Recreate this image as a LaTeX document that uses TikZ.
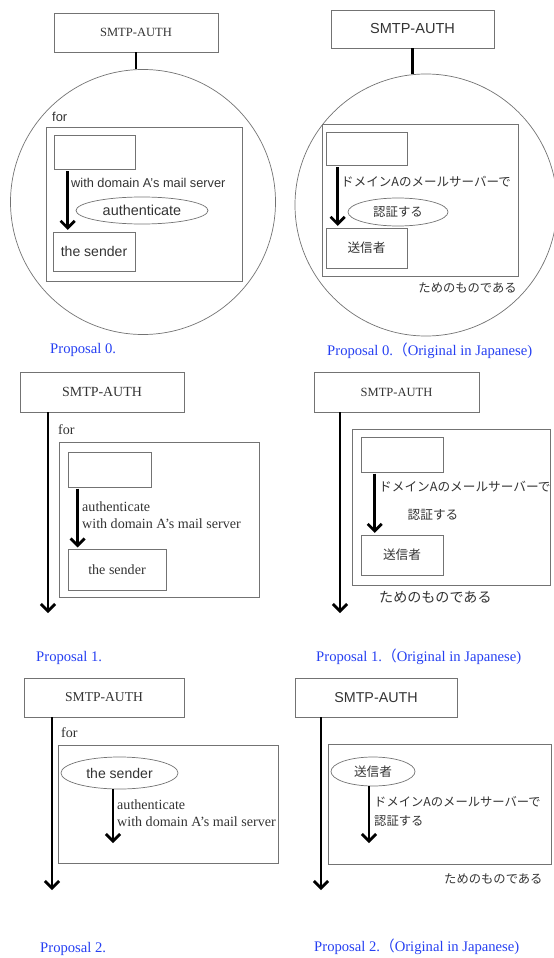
\documentclass[tikz,border=0pt]{standalone}
\usepackage{fontspec}
\setmainfont{Liberation Serif}
\setsansfont{Liberation Sans}
\newfontfamily\jpfont{Noto Sans CJK JP}
\usetikzlibrary{arrows.meta,shapes.geometric}
\definecolor{BoxClr}{rgb}{0.45,0.45,0.45}
\definecolor{TxtClr}{rgb}{0.2,0.2,0.2}
\definecolor{CapClr}{rgb}{0.15,0.25,0.95}

\begin{document}
\begin{tikzpicture}[x=0.03cm,y=-0.03cm,
  box/.style={draw=BoxClr,line width=.6pt,inner sep=0pt,text=TxtClr},
  oval/.style={ellipse,draw=BoxClr,line width=.6pt,inner sep=0pt,text=TxtClr},
  ring/.style={circle,draw=BoxClr,line width=.6pt,inner sep=0pt},
  link/.style={line width=2.4pt,black},
  arr/.style={line width=2.4pt,black,-{Straight Barb[length=6pt,width=12pt]}},
  lbl/.style={inner sep=0pt,text=TxtClr},
  caption/.style={inner sep=0pt,text=CapClr,font=\fontsize{12.5}{15}\selectfont}]

\useasboundingbox (0,0) rectangle (553,958);

\node[box,minimum width=4.92cm,minimum height=1.17cm,font=\fontsize{10.7}{13}\selectfont] (smtpA) at (136,32.5) {SMTP-AUTH};
\node[ring,minimum size=7.95cm] (circA) at (143,202) {};
\draw[link] (smtpA.south) -- (smtpA.south |- circA.north);
\node[lbl,anchor=west,font=\sffamily\fontsize{11}{13}\selectfont] (forA) at (52,117) {for};
\node[box,minimum width=5.88cm,minimum height=4.62cm] (frameA) at (144,204) {};
\node[box,minimum width=2.43cm,minimum height=1.02cm] (emptyA) at (94.5,152) {};
\node[box,minimum width=2.46cm,minimum height=1.17cm,font=\sffamily\fontsize{12}{14}\selectfont] (senderA) at (94,251.5) {the sender};
\coordinate (a0) at ([xshift=.42cm]emptyA.south west);
\draw[arr,shorten <=1.5pt,shorten >=1.5pt] (a0) -- (a0 |- senderA.north);
\node[lbl,anchor=west,font=\sffamily\fontsize{10.9}{13}\selectfont] (viaA) at (71,183) {with domain A's mail server};
\node[oval,minimum width=3.96cm,minimum height=.81cm,font=\sffamily\fontsize{12.3}{14}\selectfont] (authA) at (142,210.5) {authenticate};

\node[box,minimum width=4.89cm,minimum height=1.14cm,font=\sffamily\fontsize{12.4}{14}\selectfont] (smtpB) at (412.5,29) {SMTP-AUTH};
\node[ring,minimum size=7.86cm] (circB) at (426,205) {};
\draw[link] (smtpB.south) -- (smtpB.south |- circB.north);
\node[box,minimum width=5.88cm,minimum height=4.56cm] (frameB) at (420,200) {};
\node[box,minimum width=2.43cm,minimum height=.99cm] (emptyB) at (366.5,148.5) {};
\node[box,minimum width=2.43cm,minimum height=1.2cm,font=\jpfont\fontsize{10.8}{13}\selectfont] (senderB) at (366.5,248) {送信者};
\coordinate (b0) at ([xshift=.36cm]emptyB.south west);
\draw[arr,shorten <=1.5pt,shorten >=1.5pt] (b0) -- (b0 |- senderB.north);
\node[lbl,anchor=west,font=\jpfont\fontsize{10.7}{13}\selectfont] (viaB) at (341,182) {ドメインAのメールサーバーで};
\node[oval,minimum width=3cm,minimum height=.84cm,font=\jpfont\fontsize{10.6}{13}\selectfont] (authB) at (398,212) {認証する};
\node[lbl,anchor=east,font=\jpfont\fontsize{10.5}{13}\selectfont] (forB) at (517,288) {ためのものである};

\node[caption,anchor=west] (capA) at (50,350) {Proposal 0.};
\node[caption,anchor=west] (capB) at (327,351) {Proposal 0.{\jpfont （}Original in Japanese)};

\node[box,minimum width=4.92cm,minimum height=1.2cm,font=\fontsize{11.9}{14}\selectfont] (smtpC) at (102,392) {SMTP-AUTH};
\coordinate (tailC) at (48,613);
\draw[arr] (smtpC.south -| tailC) -- (tailC);
\node[lbl,anchor=west,font=\fontsize{12}{14}\selectfont] (forC) at (58,430) {for};
\node[box,minimum width=6cm,minimum height=4.65cm] (frameC) at (159,519.5) {};
\node[box,minimum width=2.49cm,minimum height=1.05cm] (emptyC) at (109.5,469.5) {};
\node[box,minimum width=2.94cm,minimum height=1.23cm,font=\fontsize{12}{14}\selectfont] (senderC) at (117,569.5) {the sender};
\coordinate (c0) at ([xshift=.3cm]emptyC.south west);
\draw[arr,shorten <=1pt,shorten >=1pt] (c0) -- (c0 |- senderC.north);
\node[lbl,anchor=west,align=left,font=\fontsize{12}{14.5}\selectfont] (viaC) at (82,515.5) {authenticate\\with domain A's mail server};
\node[caption,anchor=west] (capC) at (36,658) {Proposal 1.};

\node[box,minimum width=4.95cm,minimum height=1.2cm,font=\fontsize{10.7}{13}\selectfont] (smtpD) at (396.5,392) {SMTP-AUTH};
\coordinate (tailD) at (340,613);
\draw[arr] (smtpD.south -| tailD) -- (tailD);
\node[box,minimum width=5.94cm,minimum height=4.68cm] (frameD) at (451,507) {};
\node[box,minimum width=2.46cm,minimum height=1.05cm] (emptyD) at (402,454.5) {};
\node[box,minimum width=2.46cm,minimum height=1.2cm,font=\jpfont\fontsize{10.8}{13}\selectfont] (senderD) at (402,555) {送信者};
\coordinate (d0) at ([xshift=.42cm]emptyD.south west);
\draw[arr,shorten <=1pt,shorten >=1.5pt] (d0) -- (d0 |- senderD.north);
\node[lbl,anchor=west,font=\jpfont\fontsize{10.8}{13}\selectfont] (viaD) at (379,487) {ドメインAのメールサーバーで};
\node[lbl,font=\jpfont\fontsize{10.8}{13}\selectfont] (authD) at (433,515) {認証する};
\node[lbl,anchor=west,font=\jpfont\fontsize{12}{14}\selectfont] (forD) at (379,597) {ためのものである};
\node[caption,anchor=west] (capD) at (316,657) {Proposal 1.{\jpfont （}Original in Japanese)};

\node[box,minimum width=4.8cm,minimum height=1.17cm,font=\fontsize{11.6}{14}\selectfont] (smtpE) at (104,697.5) {SMTP-AUTH};
\coordinate (tailE) at (52,890);
\draw[arr] (smtpE.south -| tailE) -- (tailE);
\node[lbl,anchor=west,font=\fontsize{12}{14}\selectfont] (forE) at (61,733) {for};
\node[box,minimum width=6.6cm,minimum height=3.54cm] (frameE) at (168,804) {};
\node[oval,minimum width=3.51cm,minimum height=.96cm,font=\sffamily\fontsize{12}{14}\selectfont] (senderE) at (119.5,773) {the sender};
\coordinate (tipE) at (113,843);
\draw[arr] (senderE.south -| tipE) -- (tipE);
\node[lbl,anchor=west,align=left,font=\fontsize{12}{14.5}\selectfont] (viaE) at (117,813.5) {authenticate\\with domain A's mail server};
\node[caption,anchor=west] (capE) at (40,949) {Proposal 2.};

\node[box,minimum width=4.86cm,minimum height=1.17cm,font=\sffamily\fontsize{12.2}{14}\selectfont] (smtpF) at (376,697.5) {SMTP-AUTH};
\coordinate (tailF) at (321,890);
\draw[arr] (smtpF.south -| tailF) -- (tailF);
\node[box,minimum width=6.69cm,minimum height=3.6cm] (frameF) at (439.5,804) {};
\node[oval,minimum width=2.52cm,minimum height=.87cm,font=\jpfont\fontsize{10.8}{13}\selectfont] (senderF) at (373,771.5) {送信者};
\coordinate (tipF) at (369,843);
\draw[arr] (senderF.south -| tipF) -- (tipF);
\node[lbl,anchor=west,align=left,font=\jpfont\fontsize{10.5}{16.2}\selectfont] (viaF) at (374,811.5) {ドメインAのメールサーバーで\\認証する};
\node[lbl,anchor=west,font=\jpfont\fontsize{10.5}{13}\selectfont] (forF) at (444,879) {ためのものである};
\node[caption,anchor=west] (capF) at (314,947) {Proposal 2.{\jpfont （}Original in Japanese)};

\end{tikzpicture}
\end{document}
